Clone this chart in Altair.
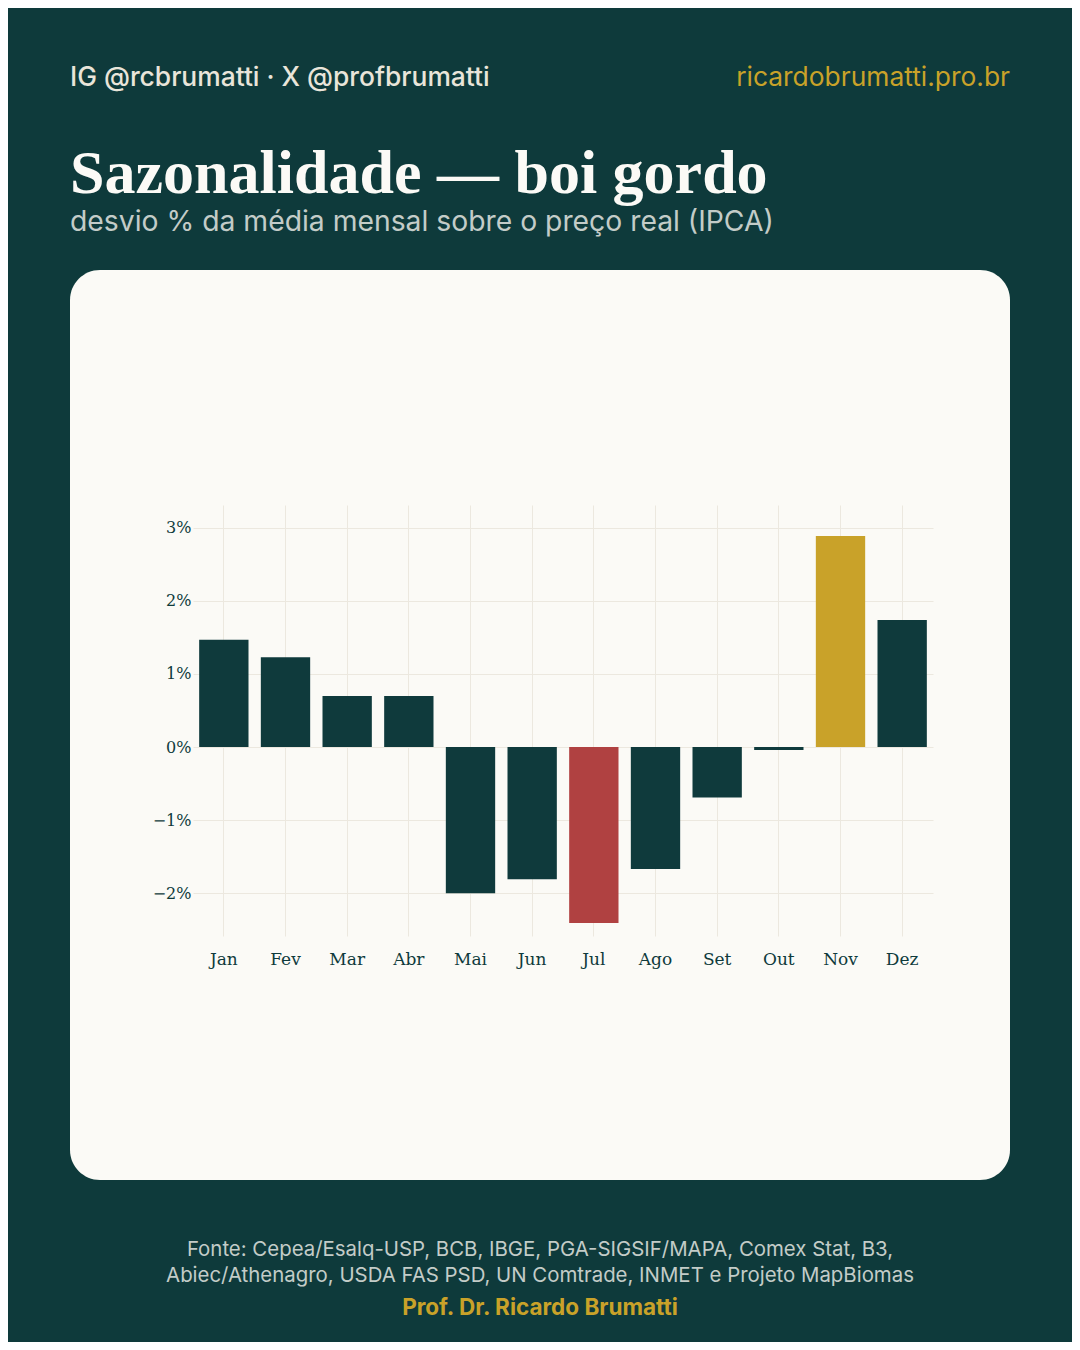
import altair as alt
import pandas as pd

# ---- data ----
months = ["Jan", "Fev", "Mar", "Abr", "Mai", "Jun", "Jul", "Ago", "Set", "Out", "Nov", "Dez"]
desvio = [1.47, 1.23, 0.70, 0.70, -2.00, -1.81, -2.41, -1.67, -0.69, -0.04, 2.89, 1.74]
bar_colors = ["#0f3a3c", "#0f3a3c", "#0f3a3c", "#0f3a3c", "#0f3a3c", "#0f3a3c",
              "#b04141", "#0f3a3c", "#0f3a3c", "#0f3a3c", "#c9a229", "#0f3a3c"]
y_ticks = [-2, -1, 0, 1, 2, 3]

handle_text = "IG @rcbrumatti · X @profbrumatti"
site_text = "ricardobrumatti.pro.br"
title_text = "Sazonalidade — boi gordo"
subtitle_text = "desvio % da média mensal sobre o preço real (IPCA)"
source_line1 = "Fonte: Cepea/Esalq-USP, BCB, IBGE, PGA-SIGSIF/MAPA, Comex Stat, B3,"
source_line2 = "Abiec/Athenagro, USDA FAS PSD, UN Comtrade, INMET e Projeto MapBiomas"
author_text = "Prof. Dr. Ricardo Brumatti"

BG = "#0e3a3b"
CARD = "#fbfaf6"
INK = "#0f3a3c"
GRID = "#ece8df"
GOLD = "#c9a229"
LIGHT = "#e9e5da"
MUTED = "#c3ccc8"
SANS = "Inter"
SERIF = "Liberation Serif"
AXIS_SERIF = "DejaVu Serif"

df = pd.DataFrame({"mes": months, "desvio": desvio, "cor": bar_colors})

bars = alt.Chart(df).mark_bar(clip=False).encode(
    x=alt.X(
        "mes:N",
        sort=months,
        scale=alt.Scale(range=[123, 863], paddingInner=0.2, paddingOuter=0.1),
        axis=alt.Axis(
            title=None, labelAngle=0, domain=False, ticks=False, tickSize=0,
            offset=-235, labelPadding=6, labelFont=AXIS_SERIF, labelFontSize=17,
            labelColor=INK, grid=True, gridColor=GRID, gridWidth=1,
        ),
    ),
    y=alt.Y(
        "desvio:Q",
        scale=alt.Scale(domain=[-2.71, 3.19], range=[675, 244], nice=False, zero=False),
        axis=alt.Axis(
            title=None, values=y_ticks, domain=False, ticks=False, tickSize=0,
            offset=-123, labelPadding=2, labelFont=AXIS_SERIF, labelFontSize=16,
            labelColor=INK, grid=True, gridColor=GRID, gridWidth=1,
            labelExpr="(datum.value < 0 ? '−' : '') + abs(datum.value) + '%'",
        ),
    ),
    color=alt.Color("cor:N", scale=None, legend=None),
)


def text_layer(txt, x, y, size, color, font, weight="normal", align="left", baseline="alphabetic"):
    return alt.Chart(pd.DataFrame({"t": [txt]})).mark_text(
        align=align, baseline=baseline, font=font, fontSize=size,
        fontWeight=weight, color=color, clip=False,
    ).encode(text="t:N", x=alt.value(x), y=alt.value(y))


texts = [
    text_layer(handle_text, 0, -184, 26.4, LIGHT, SANS, weight=500),
    text_layer(site_text, 940, -184, 26.4, GOLD, SANS, align="right"),
    text_layer(title_text, 0, -77, 62, "#fbfaf6", SERIF, weight="bold"),
    text_layer(subtitle_text, 0, -39, 28.3, MUTED, SANS),
    text_layer(source_line1, 470, 986, 20.4, MUTED, SANS, align="center"),
    text_layer(source_line2, 470, 1012, 20.4, MUTED, SANS, align="center"),
    text_layer(author_text, 470, 1045, 22.5, GOLD, SANS, weight="bold", align="center"),
]

chart = alt.layer(bars, *texts).properties(
    width=940,
    height=910,
    autosize=alt.AutoSizeParams(type="none"),
    padding={"left": 62, "top": 262, "right": 62, "bottom": 162},
    background=BG,
).configure_view(
    fill=CARD, stroke=None, cornerRadius=30,
)

chart.save("out.html", embed_options={"renderer": "svg", "actions": False})
